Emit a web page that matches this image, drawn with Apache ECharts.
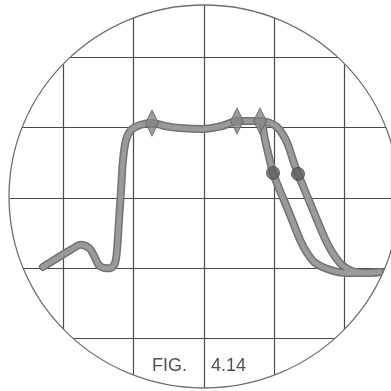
<!DOCTYPE html>
<html>
<head>
<meta charset="utf-8">
<script src="https://cdn.jsdelivr.net/npm/echarts@6/dist/echarts.min.js"></script>
<style>
  html, body { margin: 0; padding: 0; background: #fff; }
  #chart { width: 391px; height: 391px; }
</style>
</head>
<body>
<div id="chart"></div>
<script>
// screen units: one graticule division = 10
const sharedTrace = [
    [7.10, 20.19], [11.0, 22.60], [12.5, 23.35], [13.7, 22.85], [14.4, 21.70],
    [15.0, 20.50], [15.8, 20.05], [16.7, 20.00], [17.34, 20.75], [17.63, 22.61],
    [17.91, 26.87], [18.20, 31.14], [18.48, 35.41], [18.91, 38.26], [19.62, 39.68],
    [20.90, 40.39], [22.60, 40.68], [24.45, 40.24], [26.59, 39.96], [29.72, 39.82],
    [32.57, 40.24], [34.69, 40.95], [36.26, 40.95], [37.97, 40.95]
];
const fallA = [
    [38.68, 38.26], [39.25, 35.84], [39.82, 33.56], [40.53, 31.71], [41.24, 30.01],
    [42.52, 26.89], [43.66, 24.05], [44.65, 22.20], [45.79, 20.78], [47.92, 19.78],
    [50.34, 19.35], [52.90, 19.35], [55.04, 19.49]
];
const fallB = [
    [39.39, 40.67], [40.39, 40.10], [41.24, 38.97], [41.95, 37.55], [42.66, 35.41],
    [43.37, 33.42], [44.08, 31.71], [44.79, 30.01], [45.79, 27.59], [46.79, 25.17],
    [47.50, 23.60], [48.49, 21.89], [49.63, 20.47], [51.05, 19.62], [52.90, 19.35],
    [55.04, 19.49]
];
const diamondMarks = [[22.60, 40.68], [34.69, 40.95], [37.97, 40.95]];
const dotMarks = [[39.82, 33.56], [43.37, 33.42]];
const figLabel = 'FIG.';
const figNumber = '4.14';

const traceA = sharedTrace.concat(fallA);
const traceB = sharedTrace.slice(-1).concat(fallB);

function traceSeries(data, width, color, z) {
    return {
        type: 'line',
        data: data,
        smooth: 0.3,
        showSymbol: false,
        silent: true,
        z: z,
        lineStyle: { color: color, width: width, cap: 'round', join: 'round' }
    };
}

const axisBase = {
    type: 'value',
    splitNumber: 5,
    axisLine: { show: false }, axisTick: { show: false }, axisLabel: { show: false },
    splitLine: { show: true, lineStyle: { color: '#4a4a4a', width: 1.2 } }
};

const chart = echarts.init(document.getElementById('chart'), null, { renderer: 'canvas' });

chart.setOption({
    backgroundColor: '#fff',
    animation: false,
    grid: { left: 0, right: 0, top: 0, bottom: 0 },
    // the screen edge sits between graticule lines, so the extent is not a multiple of 10
    xAxis: Object.assign({}, axisBase, { min: 0.98, max: 56.6 }),
    yAxis: Object.assign({}, axisBase, { min: 2.55, max: 58.16 }),
    series: [
        traceSeries(traceA, 8, '#727272', 2),
        traceSeries(traceB, 8, '#727272', 2),
        traceSeries(traceA, 5, '#9a9a9a', 3),
        traceSeries(traceB, 5, '#9a9a9a', 3),
        {
            type: 'scatter', data: diamondMarks, symbol: 'diamond',
            symbolSize: [13, 26], z: 4, silent: true,
            itemStyle: { color: '#858585', borderColor: '#5e5e5e', borderWidth: 1 }
        },
        {
            type: 'scatter', data: dotMarks, symbol: 'circle',
            symbolSize: 13, z: 4, silent: true,
            itemStyle: { color: '#5e5e5e', borderColor: '#444', borderWidth: 1 }
        }
    ],
    graphic: [
        {   // white mask outside the screen face
            type: 'ellipse', z: 100, silent: true,
            shape: { cx: 204, cy: 196.5, rx: 295, ry: 291.5 },
            style: { fill: null, stroke: '#fff', lineWidth: 200 }
        },
        {
            type: 'ellipse', z: 101, silent: true,
            shape: { cx: 204, cy: 196.5, rx: 195, ry: 191.5 },
            style: { fill: null, stroke: '#707070', lineWidth: 1.3 }
        },
        {
            type: 'text', z: 102, left: 152, top: 357,
            style: { text: figLabel, font: '18px "Liberation Sans"', fill: '#505050' }
        },
        {
            type: 'text', z: 102, left: 211, top: 357,
            style: { text: figNumber, font: '18px "Liberation Sans"', fill: '#505050' }
        }
    ]
});
</script>
</body>
</html>
